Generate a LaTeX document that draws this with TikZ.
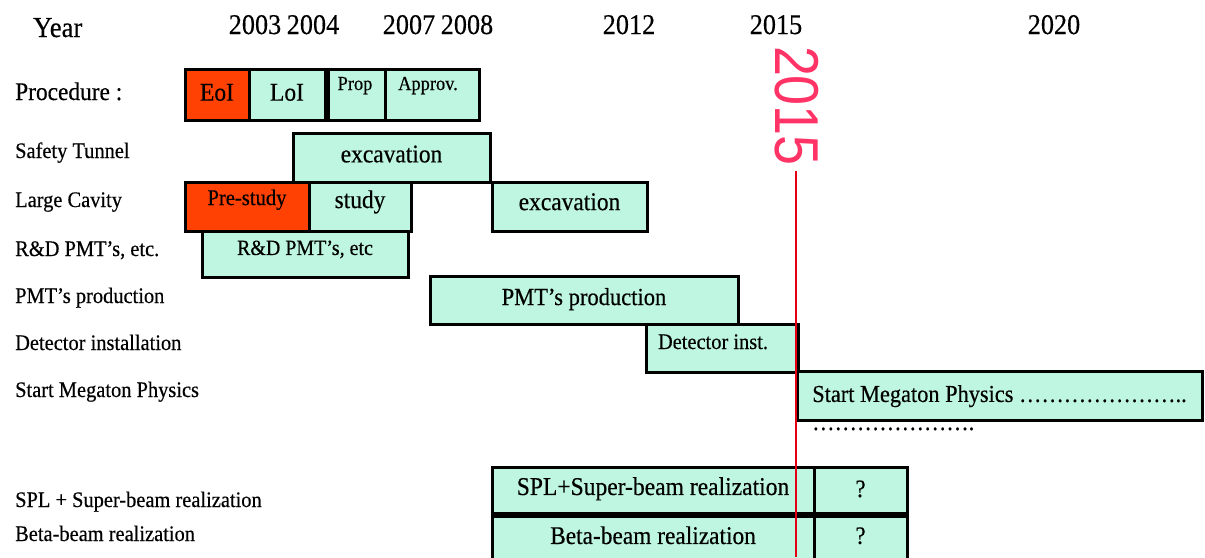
\documentclass[tikz,border=0pt]{standalone}
\usepackage{fontspec}
\setmainfont{Liberation Serif}[FakeStretch=0.92, FakeBold=0.4]
\newfontfamily\markfont{Liberation Sans}[FakeStretch=0.87]
\definecolor{mint}{RGB}{190,246,226}
\definecolor{hot}{RGB}{255,66,4}
\definecolor{markpink}{RGB}{255,51,102}
\definecolor{markred}{RGB}{230,0,20}
\newcommand\fs[1]{\fontsize{#1}{#1}\selectfont}
\newcommand\dotrun{…}
% phase box: name, x1, y1, x2, y2, fill, font size, text depth (in em), text
\newcommand\phasebox[9]{%
  \pgfmathsetmacro\phaseht{0.68*#7}%
  \pgfmathsetmacro\phasedp{#8*#7}%
  \node[phase, fill=#6, font=\fs{#7}, text height=\phaseht pt, text depth=\phasedp pt,
        minimum width={#4pt-#2pt}, minimum height={#5pt-#3pt}]
        (#1) at ({(#2+#4)/2},{(#3+#5)/2}) {#9};}
\begin{document}
\begin{tikzpicture}[x=1pt, y=-1pt,
  phase/.style={draw=black, line width=3pt, inner sep=0pt, anchor=center},
  rowlab/.style={font=\fs{22.2}, anchor=base west, inner sep=0pt},
  yearlab/.style={font=\fs{28.5}, anchor=base, inner sep=0pt}]
\useasboundingbox (0,0) rectangle (1205,557);

% header
\node[font=\fs{29}, anchor=base west, inner sep=0pt] (year) at (33,37) {Year};
\node[yearlab] (y2003) at (255,34) {2003};
\node[yearlab] (y2004) at (313,34) {2004};
\node[yearlab] (y2007) at (409,34) {2007};
\node[yearlab] (y2008) at (467,34) {2008};
\node[yearlab] (y2012) at (629,34) {2012};
\node[yearlab] (y2015) at (776,34) {2015};
\node[yearlab] (y2020) at (1054,34) {2020};

% row titles
\node[font=\fs{25.4}, anchor=base west, inner sep=0pt] (rproc) at (15,100) {Procedure :};
\node[rowlab] (rtun) at (15,158) {Safety Tunnel};
\node[rowlab] (rcav) at (15,207) {Large Cavity};
\node[rowlab] (rrd)  at (15,256) {R\&D PMT’s, etc.};
\node[rowlab] (rpmt) at (15,303) {PMT’s production};
\node[rowlab] (rdet) at (15,350) {Detector installation};
\node[rowlab] (rmeg) at (15,397) {Start Megaton Physics};
\node[rowlab] (rspl) at (15,507) {SPL + Super-beam realization};
\node[rowlab] (rbeta) at (15,541) {Beta-beam realization};

% procedure
\phasebox{eoi}{185}{69}{249}{120}{hot}{25.5}{.2}{EoI}
\phasebox{loi}{249}{69}{325}{120}{mint}{25.5}{.2}{LoI}
\phasebox{prop}{325}{69}{385}{120}{mint}{20}{1.13}{Prop}
\phasebox{appr}{385}{69}{479}{120}{mint}{20}{1.13}{Approv.\hspace*{8pt}}
\draw[line width=6pt] (loi.north east) -- (loi.south east);

% tunnel and cavity
\phasebox{tun}{293}{133}{490}{182}{mint}{25.5}{.3}{excavation}
\phasebox{pre}{185}{182}{309}{231}{hot}{22.4}{.81}{Pre-study}
\phasebox{study}{309}{182}{411}{231}{mint}{25.5}{.56}{study}
\phasebox{cavexc}{492}{182}{647}{231}{mint}{25.5}{.4}{excavation}

% PMTs and detector
\phasebox{rd}{202}{231}{408}{277}{mint}{21.7}{.59}{R\&D PMT’s, etc}
\phasebox{pmt}{430}{276}{738}{324}{mint}{24.5}{.27}{PMT’s production}
\phasebox{det}{646}{324}{798}{372}{mint}{22.2}{.59}{Detector inst.\hspace*{18pt}}
\phasebox{meg}{797}{371}{1202}{420}{mint}{24.3}{.15}{Start Megaton Physics \dotrun\dotrun\dotrun\dotrun\dotrun\dotrun\dotrun..}
\node[font=\fs{24.3}, anchor=base west, inner sep=0pt] (megdots) at (812,430) {\dotrun\dotrun\dotrun\dotrun\dotrun\dotrun\dotrun.};

% beams
\phasebox{spl}{492}{467}{814}{513}{mint}{25.6}{.29}{SPL+Super-beam realization}
\phasebox{splq}{814}{467}{907}{513}{mint}{25}{.12}{?}
\phasebox{beta}{492}{513}{814}{562}{mint}{25.4}{.17}{Beta-beam realization}
\phasebox{betaq}{814}{513}{907}{562}{mint}{25}{.17}{?}
\draw[line width=6pt] (spl.south west) -- (splq.south east);

% 2015 marker
\node[font=\markfont\fs{62}, text=markpink, rotate=-90, inner sep=0pt] (mark) at (797,106) {2015};
\coordinate (marktop) at (796,171);
\coordinate (markbot) at (796,557);
\draw[markred, line width=1.2pt] (marktop) -- (markbot);
\end{tikzpicture}
\end{document}
